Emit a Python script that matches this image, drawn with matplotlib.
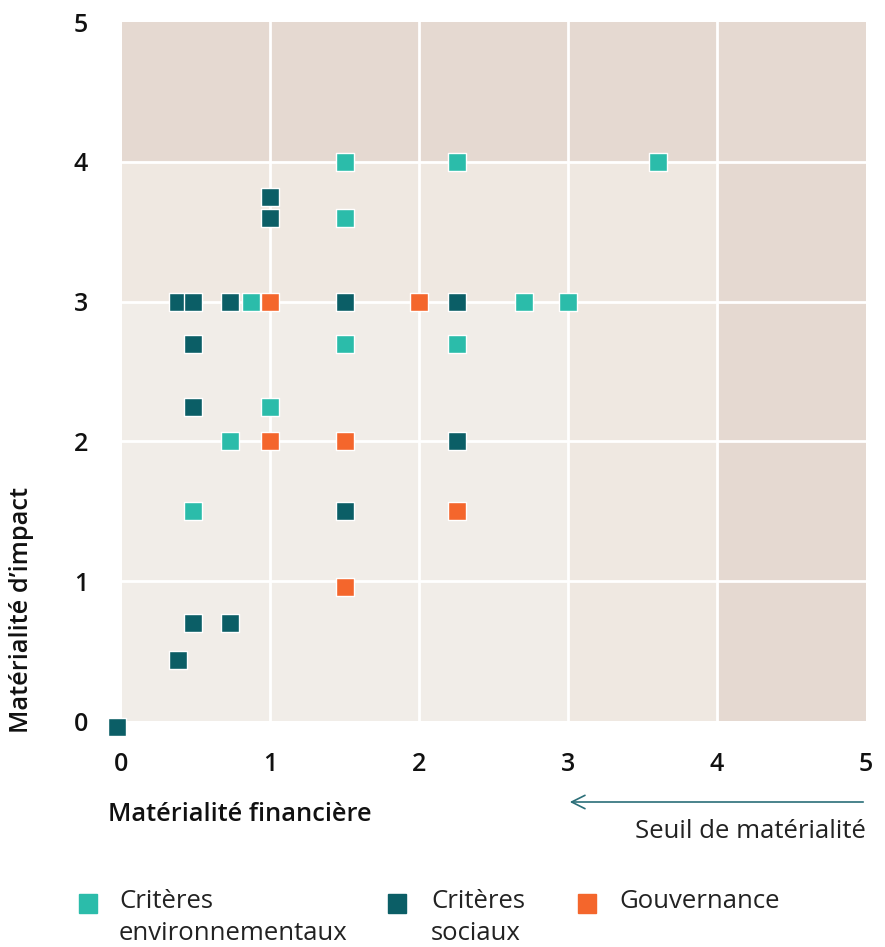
import matplotlib

matplotlib.use("Agg")
import matplotlib.pyplot as plt
from matplotlib.patches import Rectangle, FancyArrowPatch

plt.rcParams["font.family"] = ["Open Sans", "DejaVu Sans"]

# (financière, impact) per category
env_x = [1.5, 2.25, 3.6, 1.5, 0.87, 2.7, 3.0, 1.5, 2.25, 1.0, 0.73, 0.48]
env_y = [4.0, 4.0, 4.0, 3.6, 3.0, 3.0, 3.0, 2.7, 2.7, 2.25, 2.0, 1.5]

soc_x = [1.0, 1.0, 0.38, 0.48, 0.73, 1.5, 2.25, 0.48, 0.48, 2.25, 1.5, 0.48, 0.73, 0.38, -0.03]
soc_y = [3.75, 3.6, 3.0, 3.0, 3.0, 3.0, 3.0, 2.7, 2.25, 2.0, 1.5, 0.7, 0.7, 0.44, -0.04]

gov_x = [1.0, 2.0, 1.0, 1.5, 2.25, 1.5]
gov_y = [3.0, 3.0, 2.0, 2.0, 1.5, 0.96]

ticks = [0, 1, 2, 3, 4, 5]
legend_labels = ["Critères\nenvironnementaux", "Critères\nsociaux", "Gouvernance"]

C_ENV = "#2bbcaa"
C_SOC = "#0b5e66"
C_GOV = "#f4662c"

fig = plt.figure(figsize=(8.85, 9.47), dpi=100)
ax = fig.add_axes([0.1373, 0.2386, 0.8412, 0.738])

# materiality zones
ax.add_patch(Rectangle((0, 0), 5, 5, color="#e5d9d1", zorder=0))
ax.add_patch(Rectangle((0, 0), 4, 4, color="#efe8e1", zorder=0))
ax.add_patch(Rectangle((0, 0), 3, 3, color="#f1ede8", zorder=0))
for v in [1, 2, 3, 4]:
    ax.axvline(v, color="white", lw=2, zorder=1)
    ax.axhline(v, color="white", lw=2, zorder=1)

ax.set_xlim(0, 5)
ax.set_ylim(0, 5)

marker_kw = dict(marker="s", s=175, edgecolors="white", linewidths=1, zorder=3, clip_on=False)
ax.scatter(env_x, env_y, color=C_ENV, **marker_kw)
ax.scatter(soc_x, soc_y, color=C_SOC, **marker_kw)
ax.scatter(gov_x, gov_y, color=C_GOV, **marker_kw)

for s in ax.spines.values():
    s.set_visible(False)
ax.set_xticks(ticks)
ax.set_yticks(ticks)
ax.tick_params(axis="x", length=0, pad=22, labelsize=18, labelcolor="#111111")
ax.tick_params(axis="y", length=0, pad=24, labelsize=18, labelcolor="#111111")
for lab in ax.get_xticklabels() + ax.get_yticklabels():
    lab.set_fontweight("semibold")

fig.text(108 / 885, 1 - 814 / 947, "Matérialité financière", fontsize=18.3,
         fontweight="semibold", color="#111111", ha="left", va="center")
fig.text(22 / 885, 1 - 733 / 947, "Matérialité d’impact", fontsize=18.3,
         fontweight="semibold", color="#111111", rotation=90, ha="center", va="bottom")

# threshold arrow
fig.patches.append(FancyArrowPatch(
    (866 / 885, 1 - 802 / 947), (567 / 885, 1 - 802 / 947),
    transform=fig.transFigure, arrowstyle="->", mutation_scale=24,
    color="#2a6e78", lw=1.2))
fig.text(866 / 885, 1 - 831 / 947, "Seuil de matérialité", fontsize=18.5,
         color="#222222", ha="right", va="center")

# legend
for px, tx, col, lab in zip([88, 397, 587], [119, 431, 619], [C_ENV, C_SOC, C_GOV], legend_labels):
    fig.patches.append(Rectangle((px / 885 - 9 / 885, 1 - 913 / 947), 18 / 885, 19 / 947,
                                 transform=fig.transFigure, color=col))
    fig.text(tx / 885, 1 - 889 / 947, lab, fontsize=18.5, color="#222222",
             ha="left", va="top", linespacing=1.35)

fig.savefig("out.png", dpi=100)
